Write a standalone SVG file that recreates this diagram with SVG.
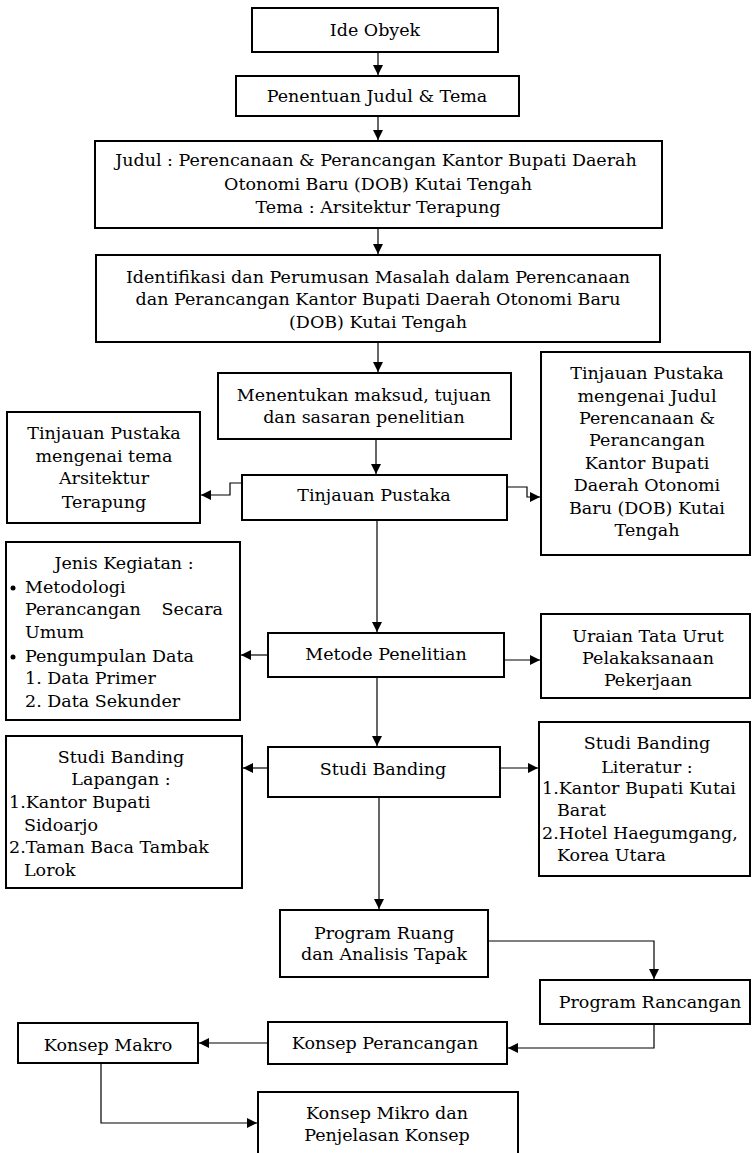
<svg xmlns="http://www.w3.org/2000/svg" width="753" height="1153" viewBox="0 0 753 1153">
<style>
.b{fill:#fff;stroke:#000;stroke-width:2}
.t{font-family:"DejaVu Serif","Liberation Serif",serif;font-size:17.5px;fill:#000}
.c{text-anchor:middle}
.e{text-anchor:end}
.k{fill:none;stroke:#000;stroke-width:1.2}
</style>
<defs>
<marker id="a" markerUnits="userSpaceOnUse" markerWidth="11" markerHeight="11" refX="10" refY="5" orient="auto">
<path d="M0,0 L10,5 L0,10 z" fill="#000"/>
</marker>
</defs>
<rect width="753" height="1153" fill="#fff"/>
<g id="connectors">
<path class="k" d="M378,52 V75" marker-end="url(#a)"/>
<path class="k" d="M378,116 V140" marker-end="url(#a)"/>
<path class="k" d="M378,228 V254" marker-end="url(#a)"/>
<path class="k" d="M378,342 V372" marker-end="url(#a)"/>
<path class="k" d="M376,439 V474" marker-end="url(#a)"/>
<path class="k" d="M242,483 H230 V495 H201" marker-end="url(#a)"/>
<path class="k" d="M507,487 H527 V497 H540" marker-end="url(#a)"/>
<path class="k" d="M377,520 V632" marker-end="url(#a)"/>
<path class="k" d="M268,655 H241" marker-end="url(#a)"/>
<path class="k" d="M504,660 H540" marker-end="url(#a)"/>
<path class="k" d="M377,677 V746" marker-end="url(#a)"/>
<path class="k" d="M268,768 H243" marker-end="url(#a)"/>
<path class="k" d="M500,768 H538" marker-end="url(#a)"/>
<path class="k" d="M379,797 V909" marker-end="url(#a)"/>
<path class="k" d="M488,941 H654 V979" marker-end="url(#a)"/>
<path class="k" d="M654,1024 V1048 H508" marker-end="url(#a)"/>
<path class="k" d="M268,1043 H199" marker-end="url(#a)"/>
<path class="k" d="M101,1063 V1123 H257" marker-end="url(#a)"/>
</g>
<g id="ide"><rect class="b" x="252" y="8" width="246" height="44"/><text class="t c" x="375" y="36">Ide Obyek</text></g>
<g id="penentuan"><rect class="b" x="236" y="76" width="283" height="40"/><text class="t c" x="377" y="102">Penentuan Judul &amp; Tema</text></g>
<g id="judul"><rect class="b" x="95" y="141" width="567" height="87"/>
<text class="t c" x="376" y="166">Judul : Perencanaan &amp; Perancangan Kantor Bupati Daerah</text>
<text class="t c" x="378" y="190">Otonomi Baru (DOB) Kutai Tengah</text>
<text class="t c" x="378" y="213">Tema : Arsitektur Terapung</text></g>
<g id="identifikasi"><rect class="b" x="96" y="255" width="564" height="87"/>
<text class="t c" x="378" y="283">Identifikasi dan Perumusan Masalah dalam  Perencanaan</text>
<text class="t c" x="378" y="305">dan Perancangan Kantor Bupati Daerah Otonomi Baru</text>
<text class="t c" x="378" y="328">(DOB) Kutai Tengah</text></g>
<g id="menentukan"><rect class="b" x="218" y="373" width="293" height="66"/>
<text class="t c" x="364" y="401">Menentukan maksud, tujuan</text>
<text class="t c" x="364" y="423">dan sasaran penelitian</text></g>
<g id="tinjauan"><rect class="b" x="242" y="475" width="265" height="45"/><text class="t c" x="374" y="501">Tinjauan Pustaka</text></g>
<g id="tp-tema"><rect class="b" x="7" y="412" width="193" height="111"/>
<text class="t c" x="104" y="439">Tinjauan Pustaka</text>
<text class="t c" x="104" y="462">mengenai tema</text>
<text class="t c" x="104" y="484">Arsitektur</text>
<text class="t c" x="104" y="508">Terapung</text></g>
<g id="tp-judul"><rect class="b" x="541" y="352" width="209" height="203"/>
<text class="t c" x="647" y="379">Tinjauan Pustaka</text>
<text class="t c" x="647" y="402">mengenai Judul</text>
<text class="t c" x="647" y="424">Perencanaan &amp;</text>
<text class="t c" x="647" y="446">Perancangan</text>
<text class="t c" x="647" y="469">Kantor Bupati</text>
<text class="t c" x="647" y="491">Daerah Otonomi</text>
<text class="t c" x="647" y="514">Baru (DOB) Kutai</text>
<text class="t c" x="647" y="536">Tengah</text></g>
<g id="jenis"><rect class="b" x="6" y="542" width="234" height="178"/>
<text class="t c" x="124" y="569">Jenis Kegiatan :</text>
<circle cx="13" cy="588" r="2.5"/>
<text class="t" x="25" y="593">Metodologi</text>
<text class="t" x="25" y="615">Perancangan</text><text class="t e" x="223" y="615">Secara</text>
<text class="t" x="25" y="638">Umum</text>
<circle cx="13" cy="657" r="2.5"/>
<text class="t" x="25" y="662">Pengumpulan Data</text>
<text class="t" x="25" y="684">1. Data Primer</text>
<text class="t" x="25" y="707">2. Data Sekunder</text></g>
<g id="metode"><rect class="b" x="268" y="633" width="236" height="44"/><text class="t c" x="386" y="660">Metode Penelitian</text></g>
<g id="uraian"><rect class="b" x="541" y="614" width="209" height="84"/>
<text class="t c" x="648" y="642">Uraian Tata Urut</text>
<text class="t c" x="648" y="664">Pelakaksanaan</text>
<text class="t c" x="648" y="686">Pekerjaan</text></g>
<g id="studi"><rect class="b" x="268" y="747" width="232" height="50"/><text class="t c" x="383" y="775">Studi Banding</text></g>
<g id="lapangan"><rect class="b" x="6" y="736" width="236" height="152"/>
<text class="t c" x="121" y="763">Studi Banding</text>
<text class="t c" x="121" y="785">Lapangan :</text>
<text class="t" x="9" y="808">1.Kantor Bupati</text>
<text class="t" x="24" y="831">Sidoarjo</text>
<text class="t" x="9" y="853">2.Taman Baca Tambak</text>
<text class="t" x="24" y="876">Lorok</text></g>
<g id="literatur"><rect class="b" x="539" y="722" width="211" height="154"/>
<text class="t c" x="647" y="749">Studi Banding</text>
<text class="t c" x="647" y="773">Literatur :</text>
<text class="t" x="542" y="794">1.Kantor Bupati Kutai</text>
<text class="t" x="557" y="816">Barat</text>
<text class="t" x="542" y="839">2.Hotel Haegumgang,</text>
<text class="t" x="557" y="861">Korea Utara</text></g>
<g id="program-ruang"><rect class="b" x="280" y="910" width="208" height="67"/>
<text class="t c" x="384" y="939">Program Ruang</text>
<text class="t c" x="384" y="960">dan Analisis Tapak</text></g>
<g id="program-rancangan"><rect class="b" x="540" y="980" width="210" height="44"/><text class="t c" x="650" y="1008">Program Rancangan</text></g>
<g id="konsep-perancangan"><rect class="b" x="268" y="1022" width="239" height="42"/><text class="t c" x="385" y="1049">Konsep Perancangan</text></g>
<g id="konsep-makro"><rect class="b" x="18" y="1023" width="180" height="40"/><text class="t c" x="108" y="1051">Konsep Makro</text></g>
<g id="konsep-mikro"><rect class="b" x="258" y="1092" width="260" height="70"/>
<text class="t c" x="387" y="1119">Konsep Mikro dan</text>
<text class="t c" x="387" y="1141">Penjelasan Konsep</text></g>
</svg>
